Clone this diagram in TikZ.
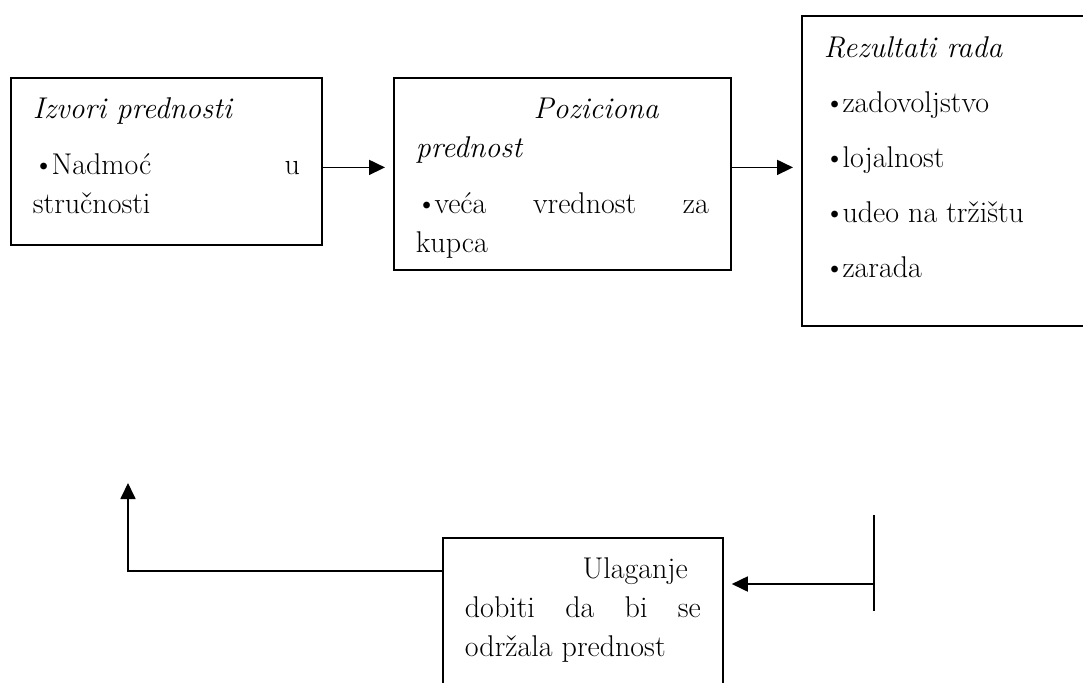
\documentclass[tikz,border=0pt]{standalone}
\usepackage{fontspec}
\usetikzlibrary{arrows.meta}

% struts that fix the gap above the first line and below the last one
\newcommand{\gornji}[1]{\rule{0pt}{#1}}
\newcommand{\donji}[1]{\rule[-#1]{0pt}{#1}}
\newcommand{\tacka}{\textbullet\kern-1.5pt}

\begin{document}
\begin{tikzpicture}[x=0.5pt, y=-0.5pt, line width=0.9pt,
   >={Triangle[length=8pt,width=7.5pt]},
   font=\fontsize{15}{19.5}\selectfont,
   blok/.style={draw, anchor=north west, align=justify, inner xsep=11pt, inner ysep=5.5pt},
   veza/.style={->, shorten >=4pt}]
\useasboundingbox (0,0) rectangle (1083,682);

% gornji red
\node[blok, text width=133.5pt] (izvori) at (10,77)
  {\gornji{15pt}\textit{Izvori prednosti}\\[8.5pt]
   \tacka Nadmoć\hfill u\\
   stručnosti\donji{10pt}};
\node[blok, text width=146.5pt] (pozicija) at (393,77)
  {\gornji{15pt}\hspace*{\fill}\textit{Poziciona}\hspace*{25pt}\\
   \textit{prednost}\\[8.5pt]
   \tacka veća\hfill vrednost\hfill za\\
   kupca\donji{3pt}};
\node[blok, text width=128pt] (rezultati) at (801,15)
  {\gornji{15.5pt}\textit{Rezultati rada}\\[8pt]
   \tacka zadovoljstvo\\[8pt]
   \tacka lojalnost\\[8pt]
   \tacka udeo na tržištu\\[8pt]
   \tacka zarada\donji{18.5pt}};

% donji red
\node[blok, text width=118pt] (ulaganje) at (442,537)
  {\gornji{15pt}\hspace*{\fill}Ulaganje\hspace*{6.5pt}\\
   dobiti\hfill da\hfill bi\hfill se\\
   održala prednost\donji{16.5pt}};

\coordinate (crtaGore) at (874,515);
\coordinate (crtaDole) at (874,611);
\coordinate (crtaSred) at (874,584);
\coordinate (skret) at (128,571);

\draw[veza] ([yshift=-3pt]izvori.east) -- ([yshift=-3pt]izvori.east -| pozicija.west);
\draw[veza] ([yshift=-3pt]izvori.east -| pozicija.east) -- ([yshift=-3pt]izvori.east -| rezultati.west);
\draw (crtaGore) -- (crtaDole);
\draw[veza] (crtaSred) -- (crtaSred -| ulaganje.east);
\draw[->] (ulaganje.west |- skret) -- (skret) -- ++(0,-88);
\end{tikzpicture}
\end{document}
